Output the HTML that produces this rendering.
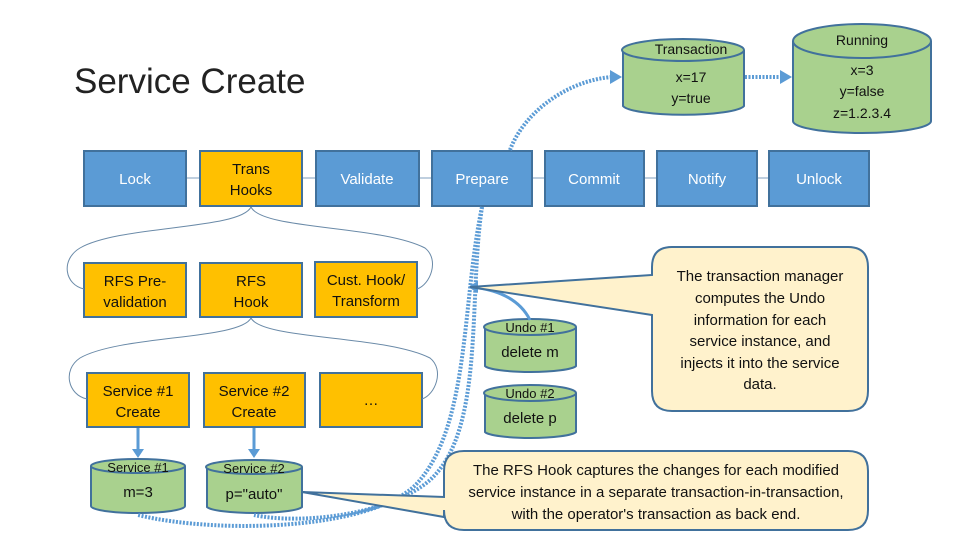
<!DOCTYPE html>
<html><head><meta charset="utf-8"><style>
body{margin:0;background:#fff}
svg{display:block;font-family:"Liberation Sans",sans-serif}
</style></head><body>
<svg width="960" height="540" viewBox="0 0 960 540">
<text x="74" y="93" font-size="35" fill="#222">Service Create</text>
<line x1="186" y1="178" x2="869" y2="178" stroke="#7f9fbf" stroke-width="1"/>
<g stroke="#41719c" stroke-width="2" fill="#5b9bd5">
<rect x="84" y="151" width="102" height="55"/>
<rect x="316" y="151" width="103" height="55"/>
<rect x="432" y="151" width="100" height="55"/>
<rect x="545" y="151" width="99" height="55"/>
<rect x="657" y="151" width="100" height="55"/>
<rect x="769" y="151" width="100" height="55"/>
</g>
<g stroke="#41719c" stroke-width="2" fill="#ffc000">
<rect x="200" y="151" width="102" height="55"/>
<rect x="84" y="263" width="102" height="54"/>
<rect x="200" y="263" width="102" height="54"/>
<rect x="315" y="262" width="102" height="55"/>
<rect x="87" y="373" width="102" height="54"/>
<rect x="204" y="373" width="101" height="54"/>
<rect x="320" y="373" width="102" height="54"/>
</g>
<g font-size="15" fill="#fff" text-anchor="middle">
<text x="135" y="184">Lock</text>
<text x="367" y="184">Validate</text>
<text x="482" y="184">Prepare</text>
<text x="594" y="184">Commit</text>
<text x="707" y="184">Notify</text>
<text x="819" y="184">Unlock</text>
</g>
<g font-size="15" fill="#111" text-anchor="middle">
<text x="251" y="174">Trans</text><text x="251" y="195">Hooks</text>
<text x="135" y="286">RFS Pre-</text><text x="135" y="307">validation</text>
<text x="251" y="286">RFS</text><text x="251" y="307">Hook</text>
<text x="366" y="285">Cust. Hook/</text><text x="366" y="306">Transform</text>
<text x="138" y="396">Service #1</text><text x="138" y="417">Create</text>
<text x="254" y="396">Service #2</text><text x="254" y="417">Create</text>
<text x="371" y="405">…</text>
</g>
<g fill="none" stroke="#6a8aa8" stroke-width="1">
<path d="M251,207 C240,230 120,225 80,248 C60,260 65,285 84,289"/>
<path d="M251,207 C262,230 380,225 425,248 C440,260 430,285 417,289"/>
<path d="M251,318 C240,340 120,335 80,358 C62,370 68,395 87,399"/>
<path d="M251,318 C262,340 385,335 430,358 C445,370 435,395 422,399"/>
</g>
<g stroke="#5b9bd5" stroke-width="3">
<line x1="138" y1="428" x2="138" y2="452"/>
<line x1="254" y1="428" x2="254" y2="452"/>
</g>
<path d="M132,449 L144,449 L138,458z M248,449 L260,449 L254,458z" fill="#5b9bd5"/>
<g stroke="#41719c" stroke-width="2" fill="#a9d18e">
<path d="M91,466 L91,506 A47,7 0 0 0 185,506 L185,466"/><ellipse cx="138" cy="466" rx="47" ry="7"/>
<path d="M207,467 L207,507 A48,7 0 0 0 302,507 L302,467"/><ellipse cx="254" cy="467" rx="48" ry="7"/>
<path d="M623,50 L623,106 A61,10 0 0 0 744,106 L744,50"/><ellipse cx="683" cy="50" rx="61" ry="11"/>
<path d="M793,41 L793,121 A69,12 0 0 0 931,121 L931,41"/><ellipse cx="862" cy="41" rx="69" ry="17"/>
<path d="M485,327 L485,366 A46,7 0 0 0 576,366 L576,327"/><ellipse cx="530" cy="327" rx="46" ry="8"/>
<path d="M485,393 L485,432 A46,7 0 0 0 576,432 L576,393"/><ellipse cx="530" cy="393" rx="46" ry="8"/>
</g>
<g font-size="13" fill="#111" text-anchor="middle">
<text x="138" y="472">Service #1</text><text x="138" y="497" font-size="15">m=3</text>
<text x="254" y="473">Service #2</text><text x="254" y="499" font-size="15">p="auto"</text>
<text x="691" y="54" font-size="14">Transaction</text>
<text x="691" y="82" font-size="14">x=17</text><text x="691" y="103" font-size="14">y=true</text>
<text x="862" y="45" font-size="14">Running</text>
<text x="862" y="75" font-size="14">x=3</text><text x="862" y="96" font-size="14">y=false</text><text x="862" y="118" font-size="14">z=1.2.3.4</text>
<text x="530" y="332">Undo #1</text><text x="530" y="357" font-size="15">delete m</text>
<text x="530" y="398">Undo #2</text><text x="530" y="423" font-size="15">delete p</text>
</g>
<g fill="none" stroke="#5b9bd5" stroke-width="4" stroke-dasharray="2,1.5">
<path d="M510,150 C525,110 570,80 612,77"/>
<line x1="745" y1="77" x2="782" y2="77"/>
<path d="M482,207 C462,300 470,420 420,480 C380,530 220,535 138,515"/>
<path d="M482,207 C468,300 485,430 430,480 C390,515 300,525 254,515"/>
</g>
<path d="M610,70 L622,77 L610,84z M780,70 L792,77 L780,84z" fill="#5b9bd5"/>
<path d="M530,320 C520,300 500,290 472,287" fill="none" stroke="#5b9bd5" stroke-width="3"/>
<path d="M468,287 L478,281 L478,293z" fill="#5b9bd5"/>
<g fill="#fff2cc" stroke="#41719c" stroke-width="2">
<path d="M672,247 L848,247 Q868,247 868,267 L868,391 Q868,411 848,411 L672,411 Q652,411 652,391 L652,315 L470,287 L652,275 L652,267 Q652,247 672,247z"/>
<path d="M464,451 L848,451 Q868,451 868,471 L868,510 Q868,530 848,530 L464,530 Q444,530 444,510 L444,517 L302,492 L444,497 L444,471 Q444,451 464,451z"/>
</g>
<g font-size="15" fill="#111" text-anchor="middle">
<text x="760" y="281">The transaction manager</text>
<text x="760" y="303">computes the Undo</text>
<text x="760" y="325">information for each</text>
<text x="760" y="346">service instance, and</text>
<text x="760" y="368">injects it into the service</text>
<text x="760" y="389">data.</text>
<text x="656" y="475">The RFS Hook captures the changes for each modified</text>
<text x="656" y="497">service instance in a separate transaction-in-transaction,</text>
<text x="656" y="519">with the operator's transaction as back end.</text>
</g>
</svg>
</body></html>
